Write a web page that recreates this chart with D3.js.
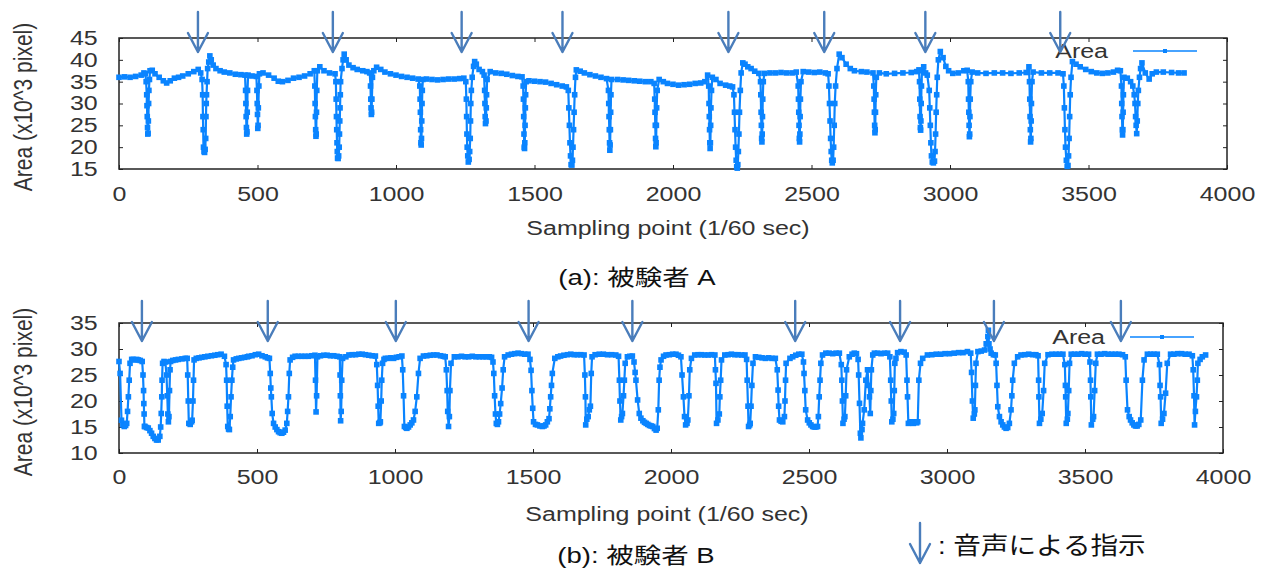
<!DOCTYPE html>
<html><head><meta charset="utf-8">
<script src="https://cdn.jsdelivr.net/npm/d3@7"></script>
<style>body{margin:0;background:#fff}svg{display:block}</style>
</head><body>
<svg id="c" width="1265" height="568"></svg>
<script>
// ---------- data ----------
const xTicks = [0,500,1000,1500,2000,2500,3000,3500,4000];
const yTicksA = [15,20,25,30,35,40,45];
const yTicksB = [10,15,20,25,30,35];
const xTitle = "Sampling point (1/60 sec)";
const yTitle = "Area (x10^3 pixel)";
const legendLabel = "Area";
const captionA = "(a): 被験者 A";
const captionB = "(b): 被験者 B";
const voiceLegend = ": 音声による指示";
// voice-instruction arrows (sampling point)
const arrowsA = [285,772,1237,1601,2200,2546,2911,3398];
const arrowsB = [83,539,1003,1484,1860,2450,2830,3170,3630];

// subject A: [sampling point, area x10^3 px]
const seriesA = [
[0,36.0],[20,36.1],[40,36.0],[60,36.2],[80,36.5],[90,37.0],[95,36.8],
[98,35],[100,32],[101,29.5],[102,27],[103,24.5],[104,23],[105,23.2],[106,26],[107,30],[108,33],[110,35.5],
[112,37.5],[120,37.6],[130,36.8],[145,36.0],[160,35.2],[172,34.7],[185,35.2],[200,35.8],[215,36.0],[230,36.3],[250,36.8],[270,37.3],[286,37.8],[295,37.0],
[300,35.5],[302,32],[303,27],[304,24],[305,20],[307,19],[309,18.8],[311,19.5],[313,22],[314,27],[315,30],[316,32],[318,35],[320,38],[324,39.5],
[328,40.9],[333,40.0],[340,38.8],[350,38.0],[365,37.5],[380,37.2],[400,37.0],[420,36.7],[440,36.6],[455,36.5],
[457,33],[458,30],[459,27],[460,24.5],[461,23],[462,23.5],[463,28],[464,33],[466,36.5],[480,36.3],[496,36.2],
[498,33],[499,30],[500,27.5],[501,24.3],[502,25],[503,29],[505,34],[507,36.8],
[520,37.0],[540,36.5],[560,35.8],[575,35.1],[590,35.0],[610,35.3],[630,35.8],[650,36.0],[670,36.3],[690,36.8],[705,37.5],
[707,34],[708,30],[709,27],[710,24],[711,22.5],[712,23],[713,28],[714,33],[716,37.5],
[725,38.4],[740,37.5],[760,37.0],[780,36.8],
[783,35],[784,31],[785,27],[786,24],[787,21],[788,19],[789,17.5],[791,17.4],[793,18],[795,20],[796,23],[797,26],[798,29],[799,32],[800,35],[805,38],[809,40],
[813,41.3],[820,40.0],[830,38.8],[845,38.2],[860,37.8],[880,37.5],[895,37.3],[905,37.0],
[908,34],[909,31],[910,29],[911,27.5],[912,28],[913,31],[915,36],
[920,37.5],[930,38.3],[945,37.8],[960,37.2],[980,36.8],[1000,36.5],[1020,36.2],[1040,36.0],[1060,35.8],[1080,35.6],
[1086,34],[1087,31],[1088,28],[1089,24],[1090,21],[1091,20.5],[1092,22],[1093,26],[1094,30],[1095,33],[1097,35.5],
[1110,35.6],[1130,35.5],[1150,35.4],[1170,35.5],[1190,35.6],[1210,35.6],[1230,35.7],[1245,35.8],
[1252,35],[1254,31],[1255,27],[1256,23],[1257,20],[1259,18],[1261,16.6],[1264,17.2],[1266,19],[1268,22],[1269,26],[1270,30],[1272,33],[1275,36],[1280,38.5],
[1284,39.6],[1290,39.0],[1300,37.8],[1312,37.3],[1318,36.5],
[1320,33],[1321,30],[1322,27],[1323,25.4],[1325,26],[1326,29],[1327,32],[1329,35.5],
[1340,37.3],[1360,37.0],[1380,36.9],[1400,36.7],[1420,36.4],[1440,36.2],[1455,36.1],
[1459,34],[1460,31],[1461,27],[1462,23],[1463,20],[1464,19.7],[1465,21],[1466,25],[1467,29],[1468,32],[1470,35],
[1480,35.2],[1500,35.1],[1520,35.0],[1540,34.9],[1560,34.6],[1580,34.3],[1600,34.0],[1615,33.8],
[1622,33],[1624,29],[1626,25],[1628,21],[1630,18],[1632,16],[1635,15.9],[1637,17],[1639,20],[1641,24],[1643,28],[1645,32],[1648,36],
[1651,37.7],[1665,37.4],[1680,37.0],[1700,36.6],[1720,36.3],[1740,36.0],[1760,35.7],
[1767,33],[1768,30],[1769,27],[1770,24],[1771,21],[1772,19.3],[1773,20.5],[1774,24],[1775,28],[1776,32],[1778,35.5],
[1800,35.5],[1820,35.4],[1840,35.3],[1860,35.2],[1880,35.1],[1900,35.0],[1920,35.0],[1932,34.6],
[1934,31],[1935,28],[1936,25],[1937,22],[1938,20.1],[1939,21],[1940,25],[1941,29],[1943,33],
[1950,35.5],[1965,35.0],[1980,34.6],[2000,34.4],[2020,34.2],[2040,34.3],[2060,34.4],[2080,34.6],[2100,34.7],[2115,35.0],[2125,36.5],
[2129,34],[2130,30],[2131,27],[2132,24],[2133,21],[2134,19.7],[2135,21],[2136,25],[2137,29],[2139,33],
[2142,36],[2155,35.5],[2170,34.6],[2190,34.2],[2205,34.0],[2215,33.8],
[2220,32],[2222,28],[2224,24],[2226,20],[2228,17],[2230,15.5],[2232,15.2],[2234,16],[2236,19],[2238,23],[2240,28],[2243,33],[2246,37],
[2252,39.3],[2260,39.0],[2270,38.4],[2282,38.0],[2295,37.4],[2310,36.9],
[2316,35],[2317,32],[2318,28],[2319,25],[2320,22],[2321,21.2],[2322,23],[2323,27],[2324,31],[2326,35],
[2330,36.9],[2350,37.0],[2370,37.0],[2390,37.1],[2410,37.0],[2430,37.0],[2445,37.2],
[2452,34],[2453,31],[2454,28],[2455,25],[2456,22],[2457,21.2],[2458,23],[2459,27],[2460,31],[2462,35],
[2470,37.3],[2490,37.2],[2510,37.1],[2530,37.2],[2550,37.0],[2560,36.8],
[2563,34],[2565,30],[2567,26],[2569,22],[2571,19],[2573,17],[2575,16.4],[2578,17],[2580,20],[2582,25],[2584,30],[2587,34],[2592,38],
[2600,41.3],[2610,40.5],[2625,39.0],[2640,38.0],[2655,37.5],[2680,37.3],[2700,37.2],[2722,37.0],
[2725,34],[2726,31],[2727,28],[2728,25],[2729,23.3],[2730,24],[2731,28],[2732,32],[2734,36],
[2745,37.0],[2770,36.8],[2800,36.9],[2830,37.0],[2860,37.1],[2880,37.3],[2888,37.7],
[2890,35],[2891,31],[2892,27],[2893,24.5],[2894,23.9],[2895,26],[2896,30],[2897,34],[2899,37.5],
[2905,38.4],[2912,37.0],[2918,36.5],
[2925,33],[2927,29],[2929,25],[2931,21],[2933,18],[2936,16.6],[2940,16.4],[2944,16.8],[2946,19],[2948,23],[2950,28],[2952,32],[2954,36],[2958,40],
[2965,41.9],[2975,40.5],[2985,38.5],[2995,37.5],[3010,36.9],[3030,37.0],[3050,37.5],[3062,37.6],
[3066,35],[3067,31],[3068,28],[3069,25],[3070,22.4],[3071,23],[3072,27],[3073,31],[3075,35],
[3080,37.2],[3100,37.0],[3130,36.9],[3160,37.0],[3190,37.0],[3220,36.9],[3250,37.0],[3275,37.1],[3285,38.4],
[3287,35],[3288,31],[3289,27],[3290,24],[3291,21.2],[3292,22],[3293,26],[3294,30],[3296,35],
[3300,37.2],[3330,37.0],[3360,37.0],[3390,37.0],[3408,36.8],
[3411,34],[3413,29],[3415,24],[3417,20],[3420,17],[3423,15.6],[3426,15.8],[3428,18],[3430,22],[3432,27],[3434,32],[3437,36],
[3442,39.6],[3455,39.0],[3470,38.4],[3490,37.8],[3510,37.3],[3530,37.0],[3550,36.9],[3570,37.0],[3590,37.2],[3605,37.6],[3615,37.5],
[3619,34],[3620,30],[3621,27],[3622,24],[3623,22.8],[3624,24],[3625,28],[3626,32],[3628,36],
[3640,35.8],[3652,35.0],[3660,34.0],[3665,32],[3668,30],[3670,27],[3672,25],[3674,23.1],[3676,26],[3678,30],[3680,33],[3684,36],[3688,38],
[3693,39.3],[3705,37.0],[3719,35.6],[3730,36.8],[3745,37.2],[3770,37.2],[3800,37.1],[3825,37.0],[3845,37.0]
];

// subject B: [sampling point, area x10^3 px]
const seriesB = [
[0,27.6],[4,25.3],[9,16.3],[14,15.4],[19,15.1],[24,15.3],[28,15.7],[31,18],[34,20.8],[37,24],[40,27.25],[46,28.0],[52,28.0],[58,27.9],[64,28.0],[70,27.9],[77,27.8],[84,27.6],
[87,25],[89,22],[90,19.5],[91,17.5],[92,15.1],[94,15.1],[100,14.9],[106,14.8],[112,14.3],[118,13.8],[124,13.2],[130,12.8],[136,12.5],[142,12.5],[148,13.2],[151,15],[153,17.6],[155,20.8],[156,24],[158,27.25],[163,27.6],[168,27.5],[172,25],[175,21],[177,17.5],[179,16.0],[181,17],[183,22],[185,26],[187,27.6],[195,27.8],[205,27.9],[215,28.0],[228,28.1],[240,28.2],[247,28.2],
[249,25],[251,20],[253,15.7],[258,15.5],[263,16],[265,16.3],[268,20],[270,24],[272,27.9],[280,28.2],[290,28.3],[300,28.4],[311,28.5],[322,28.6],[335,28.7],[347,28.8],[358,28.9],[370,29.0],[382,28.6],[388,27],
[390,24],[392,19],[394,15.1],[397,14.6],[400,14.5],[403,17],[406,20.8],[409,24],[412,26.5],[415,27.9],[425,28.1],[434,28.2],[444,28.3],[455,28.4],[465,28.5],[470,28.6],[482,28.7],[494,28.9],[506,29.0],[518,28.7],[530,28.5],[538,28.3],[545,28.2],
[548,25.3],[550,22.5],[552,20.8],[555,17.6],[560,15.7],[566,15.0],[572,14.5],[578,14.1],[584,13.9],[590,13.8],[596,14.0],[602,14.4],[608,15.7],[611,18],[614,20.8],[617,25.3],[620,27.9],[629,28.4],[638,28.6],[650,28.6],[662,28.6],[674,28.6],[686,28.6],[698,28.7],[710,28.8],
[712,24],[714,17.9],[716,21],[719,28.5],[730,28.7],[742,28.8],[754,28.8],[766,28.7],[778,28.7],[790,28.6],[800,28.5],
[801,25],[802,21],[803,16.2],[805,18],[807,24],[810,28.2],[822,28.5],[833,28.85],[845,28.9],[857,28.9],[869,29.0],[881,29.0],[893,28.9],[905,28.8],[917,28.7],[929,28.65],[934,27],
[937,23],[939,19],[941,15.7],[945,15.8],[947,16.0],[950,20],[952,24],[955,27.25],[960,28.0],[965,28.2],[975,28.2],[985,28.3],[995,28.2],[1005,28.4],[1015,28.5],[1025,28.65],
[1028,26],[1031,21],[1034,15.1],[1039,14.9],[1043,14.75],[1049,15.0],[1055,15.4],[1061,15.8],[1067,16.35],[1073,18],[1079,20.8],[1085,25.3],[1091,28.2],[1103,28.65],[1115,28.7],[1128,28.8],[1140,28.85],[1152,28.85],[1165,28.7],[1175,28.6],[1182,28.5],
[1186,26],[1189,22],[1191,18],[1194,15.1],[1197,17],[1199,22],[1203,27.25],[1215,28.5],[1228,28.5],[1241,28.6],[1254,28.5],[1267,28.5],[1280,28.6],[1293,28.5],[1306,28.5],[1319,28.5],[1330,28.5],[1342,28.5],[1350,28.4],[1355,27.5],
[1358,25.3],[1361,21],[1364,17.5],[1367,15.7],[1371,15.5],[1375,16],[1379,17.5],[1383,19.5],[1388,22.5],[1392,26],[1397,28.5],[1410,28.85],[1422,29.0],[1434,29.1],[1446,29.2],[1458,29.1],[1470,29.0],[1482,29.0],[1489,28],
[1493,25.9],[1496,22],[1499,18.6],[1502,16.0],[1509,15.5],[1516,15.4],[1525,15.2],[1534,15.1],[1540,15.2],[1546,15.4],[1552,16.0],[1558,16.6],[1561,18.5],[1564,20.8],[1567,23],[1570,25.3],[1579,28.2],[1590,28.5],[1600,28.65],[1612,28.8],[1625,28.9],[1637,29.0],[1649,28.9],[1661,28.9],[1673,28.9],[1685,28.85],
[1688,25],[1690,20.8],[1691,15.4],[1695,16.5],[1700,17.0],[1704,18.3],[1708,19],[1711,25.3],[1714,28.5],[1725,28.9],[1740,29.0],[1755,29.0],[1770,28.9],[1785,28.9],[1800,28.85],[1810,28.6],
[1813,24],[1815,20],[1818,16.35],[1821,17],[1824,17.6],[1828,21],[1831,24],[1834,27.25],[1842,28.5],[1851,28.6],[1860,28.65],[1866,27.5],
[1870,25.5],[1873,24.0],[1879,20.2],[1885,17.6],[1891,16.7],[1898,16.2],[1904,15.9],[1910,15.7],[1916,15.5],[1922,15.3],[1928,15.2],[1934,15.1],[1940,14.7],[1946,14.4],[1950,14.75],[1954,18.3],[1957,24.0],[1960,26.5],[1964,27.9],[1973,28.6],[1982,28.85],[1994,28.9],[2006,29.0],[2018,29.0],[2027,28.8],[2036,28.5],
[2040,25],[2045,20.8],[2049,17],[2053,15.4],[2058,15.7],[2061,16.35],[2065,21],[2068,26.0],[2074,28.2],[2086,28.85],[2098,28.9],[2110,28.9],[2122,28.85],[2135,28.85],[2147,28.9],[2159,28.85],
[2161,26],[2163,23.4],[2165,15.7],[2170,16.35],[2175,17.5],[2177,20.8],[2180,24],[2183,27.9],[2195,28.85],[2207,28.9],[2219,29.0],[2231,28.9],[2243,28.9],[2256,28.85],[2268,28.85],[2274,28],
[2276,24.0],[2279,19],[2281,15.1],[2285,15.4],[2287,15.7],[2290,19],[2293,23],[2297,27.25],[2306,28.5],[2318,28.4],[2330,28.3],[2342,28.2],[2354,28.3],[2366,28.2],[2378,28.2],[2385,26],
[2388,22.1],[2390,19],[2393,16.35],[2399,16.1],[2405,16.0],[2411,17.0],[2413,20],[2415,24],[2417,27.25],[2431,28.2],[2441,28.5],[2452,28.8],[2463,29.0],[2474,29.0],[2480,27.5],
[2482,25.3],[2485,22],[2488,18.3],[2495,16.35],[2501,15.8],[2507,15.4],[2513,15.1],[2519,15.0],[2525,15.0],[2531,15.1],[2534,17],[2537,20.8],[2540,24],[2543,27.25],[2549,28.85],[2561,29.2],[2573,29.2],[2586,29.1],[2598,29.2],[2610,29.2],[2617,27],
[2619,24.0],[2621,20],[2623,15.7],[2627,16.5],[2630,17.0],[2633,21],[2636,26.0],[2646,28.5],[2656,29.0],[2664,29.2],[2672,29.1],[2678,28],
[2680,25],[2683,19.55],[2686,13.8],[2688,12.9],[2692,14.5],[2694,15.7],[2700,18.3],[2706,24.0],[2712,26.0],[2716,23],[2719,20.8],[2722,17.6],[2724,22],[2726,26.0],[2731,28.85],[2737,29.2],[2749,29.2],[2761,29.1],[2773,29.2],[2785,29.2],[2793,28.5],
[2796,24.0],[2798,20],[2800,16.0],[2804,16.5],[2807,17.6],[2809,22],[2811,27.25],[2815,28.2],[2821,29.3],[2833,29.5],[2845,29.4],[2852,28.85],
[2855,24],[2857,20.8],[2860,15.7],[2866,15.8],[2872,16.0],[2878,15.7],[2884,16.0],[2890,15.8],[2894,16.0],[2898,24.0],[2904,27.25],[2912,28.2],[2929,28.85],[2945,28.9],[2961,29.0],[2977,29.0],[2993,29.1],[3009,29.1],[3026,29.2],[3042,29.3],[3058,29.3],[3074,29.5],[3086,29.2],
[3089,25.5],[3092,20],[3095,16.7],[3099,17.5],[3101,18.3],[3103,23],[3105,27.25],[3112,29.5],[3124,29.6],[3136,29.8],[3142,31],[3148,32.4],[3150,33.6],[3152,31],[3156,30],[3160,29.2],[3168,28.9],[3175,28.85],[3178,27.25],
[3181,23],[3184,18.9],[3190,17.0],[3196,16.0],[3202,15.4],[3208,15.0],[3214,14.75],[3220,14.9],[3226,15.7],[3232,18.3],[3235,21],[3238,24.0],[3244,27.25],[3256,28.5],[3268,28.85],[3282,28.9],[3296,29.0],[3310,28.9],[3322,28.9],[3330,28.7],
[3332,24],[3333,20.8],[3335,15.7],[3340,16.5],[3345,17.6],[3350,22],[3354,27.25],[3366,28.9],[3380,29.0],[3395,29.0],[3408,29.0],[3420,29.0],[3427,27],
[3429,23],[3430,20.8],[3432,15.7],[3436,16.5],[3438,17.6],[3441,22],[3444,27.25],[3450,29.0],[3462,29.0],[3475,29.0],[3488,29.1],[3500,29.0],[3513,29.0],[3518,27.5],
[3520,24],[3521,20.8],[3523,15.4],[3528,16.5],[3531,17.0],[3535,22],[3539,27.25],[3545,29.0],[3558,29.0],[3571,29.1],[3584,29.0],[3597,29.0],[3610,29.0],[3623,29.0],[3636,28.9],[3646,28.5],
[3649,24.0],[3654,18.3],[3660,17],[3665,16.35],[3671,15.8],[3677,15.4],[3683,15.2],[3689,15.2],[3695,15.5],[3702,16.35],[3708,24.0],[3714,27.9],[3726,29.0],[3738,29.0],[3750,29.0],[3762,29.0],[3770,27],
[3772,23],[3774,20.8],[3776,15.7],[3781,16.5],[3786,17.6],[3792,21.5],[3798,27.25],[3810,29.0],[3822,29.0],[3836,29.1],[3850,29.1],[3863,29.0],[3877,29.0],[3889,28.7],[3892,26],
[3895,21],[3897,15.4],[3900,18],[3904,20.8],[3907,24],[3909,27.25],[3917,28],[3925,28.5],[3937,28.85]
];

// ---------- layout ----------
const SX = 1.25;            // horizontal text stretch of the original figure
const FONT = "'Liberation Sans', Arial, 'Noto Sans CJK JP', sans-serif";
const DATA_COLOR = "#0a84ff";
const ARROW_COLOR = "#4a7dbb";
const TEXT_COLOR = "#333";
const FRAME_COLOR = "#222";

const svg = d3.select("#c");

function stretchText(sel) {
  sel.attr("transform", `scale(${SX},1)`);
}

function drawPanel(cfg) {
  const g = svg.append("g");
  const x = d3.scaleLinear().domain([0, 4000]).range([cfg.left, cfg.right]);
  const y = d3.scaleLinear().domain(cfg.yDomain).range([cfg.bottom, cfg.top]);

  const styleAxis = (ax) => {
    ax.select(".domain").remove();
    ax.selectAll(".tick line").attr("stroke", FRAME_COLOR).attr("stroke-width", 1);
    ax.selectAll(".tick text").attr("fill", TEXT_COLOR).style("font-size", "20px").style("font-family", FONT);
  };

  const axB = g.append("g").attr("transform", `translate(0,${cfg.bottom})`)
    .call(d3.axisBottom(x).tickValues(xTicks).tickFormat(d3.format("d")).tickSize(-4).tickPadding(cfg.xPad));
  styleAxis(axB); stretchText(axB.selectAll(".tick text"));

  const axT = g.append("g").attr("transform", `translate(0,${cfg.top})`)
    .call(d3.axisTop(x).tickValues(xTicks).tickSize(-4).tickFormat(""));
  styleAxis(axT);

  const axL = g.append("g").attr("transform", `translate(${cfg.left},0)`)
    .call(d3.axisLeft(y).tickValues(cfg.yTicks).tickFormat(d3.format("d")).tickSize(-4).tickPadding(17));
  styleAxis(axL); stretchText(axL.selectAll(".tick text"));

  const axR = g.append("g").attr("transform", `translate(${cfg.right},0)`)
    .call(d3.axisRight(y).tickValues(cfg.yTicks).tickSize(-4).tickFormat(""));
  styleAxis(axR);

  // frame
  g.append("rect")
    .attr("x", cfg.left).attr("y", cfg.top)
    .attr("width", cfg.right - cfg.left).attr("height", cfg.bottom - cfg.top)
    .attr("fill", "none").attr("stroke", FRAME_COLOR).attr("stroke-width", 1.5);

  // data line + square markers
  const line = d3.line().x(d => x(d[0])).y(d => y(d[1]));
  g.append("path").datum(cfg.data).attr("d", line)
    .attr("fill", "none").attr("stroke", DATA_COLOR).attr("stroke-width", 2.2)
    .attr("stroke-linejoin", "round");
  const ms = 5.6;
  g.append("g").selectAll("rect").data(cfg.data).join("rect")
    .attr("x", d => x(d[0]) - ms / 2).attr("y", d => y(d[1]) - ms / 2)
    .attr("width", ms).attr("height", ms).attr("fill", DATA_COLOR);

  // legend
  g.append("text").attr("transform", `translate(${cfg.legX},${cfg.legY + 7}) scale(${SX},1)`)
    .attr("text-anchor", "end").attr("fill", TEXT_COLOR)
    .style("font-size", "20px").style("font-family", FONT).text(legendLabel);
  g.append("line").attr("x1", cfg.legX + 25).attr("x2", cfg.legX + 89)
    .attr("y1", cfg.legY).attr("y2", cfg.legY)
    .attr("stroke", DATA_COLOR).attr("stroke-width", 1.6);
  g.append("rect").attr("x", cfg.legX + 57 - 2).attr("y", cfg.legY - 2)
    .attr("width", 4).attr("height", 4).attr("fill", DATA_COLOR);

  // axis titles
  g.append("text").attr("transform", `translate(${cfg.xTitleX},${cfg.xTitleY}) scale(${SX},1)`)
    .attr("text-anchor", "middle").attr("fill", TEXT_COLOR)
    .style("font-size", "20px").style("font-family", FONT).text(xTitle);
  g.append("text").attr("transform", `translate(${cfg.yTitleX},${cfg.yTitleY}) scale(${SX},1) rotate(-90)`)
    .attr("text-anchor", "middle").attr("dominant-baseline", "central").attr("fill", TEXT_COLOR)
    .style("font-size", "21px").style("font-family", FONT).text(yTitle);

  // caption
  g.append("text").attr("transform", `translate(${cfg.capX},${cfg.capY}) scale(${SX},1)`)
    .attr("text-anchor", "middle").attr("fill", "#111")
    .style("font-size", "22px").style("font-family", FONT).text(cfg.caption);

  // voice-instruction arrows
  const ag = g.append("g").attr("fill", "none").attr("stroke", ARROW_COLOR)
    .attr("stroke-width", 2.4).attr("stroke-linecap", "round").attr("stroke-linejoin", "round");
  ag.selectAll("path").data(cfg.arrows).join("path")
    .attr("d", a => {
      const px = x(a), t0 = cfg.top + cfg.arrTop, tip = cfg.top + cfg.arrTip, hb = tip - 19;
      return `M${px},${t0}L${px},${tip}M${px - 10},${hb}L${px},${tip}L${px + 10},${hb}`;
    });
}

drawPanel({
  left: 119, right: 1227, top: 38, bottom: 169, yDomain: [15, 45], yTicks: yTicksA,
  xPad: 18, data: seriesA, arrows: arrowsA, arrTop: -26, arrTip: 14,
  legX: 1108, legY: 51, xTitleX: 668, xTitleY: 235, yTitleX: 23, yTitleY: 107,
  capX: 637, capY: 285, caption: captionA
});
drawPanel({
  left: 119, right: 1223, top: 323, bottom: 453, yDomain: [10, 35], yTicks: yTicksB,
  xPad: 17, data: seriesB, arrows: arrowsB, arrTop: -22, arrTip: 18,
  legX: 1105, legY: 337, xTitleX: 667, xTitleY: 521, yTitleX: 23, yTitleY: 392,
  capX: 636, capY: 563, caption: captionB
});

// voice-instruction legend
const lg = svg.append("g");
lg.append("path").attr("d", "M920,523L920,563M910,544L920,563L930,544")
  .attr("fill", "none").attr("stroke", ARROW_COLOR).attr("stroke-width", 2.4)
  .attr("stroke-linecap", "round").attr("stroke-linejoin", "round");
lg.append("text").attr("transform", `translate(938,554) scale(1.15,1)`)
  .attr("fill", "#111").style("font-size", "24px").style("font-family", FONT).text(voiceLegend);
</script>
</body></html>
